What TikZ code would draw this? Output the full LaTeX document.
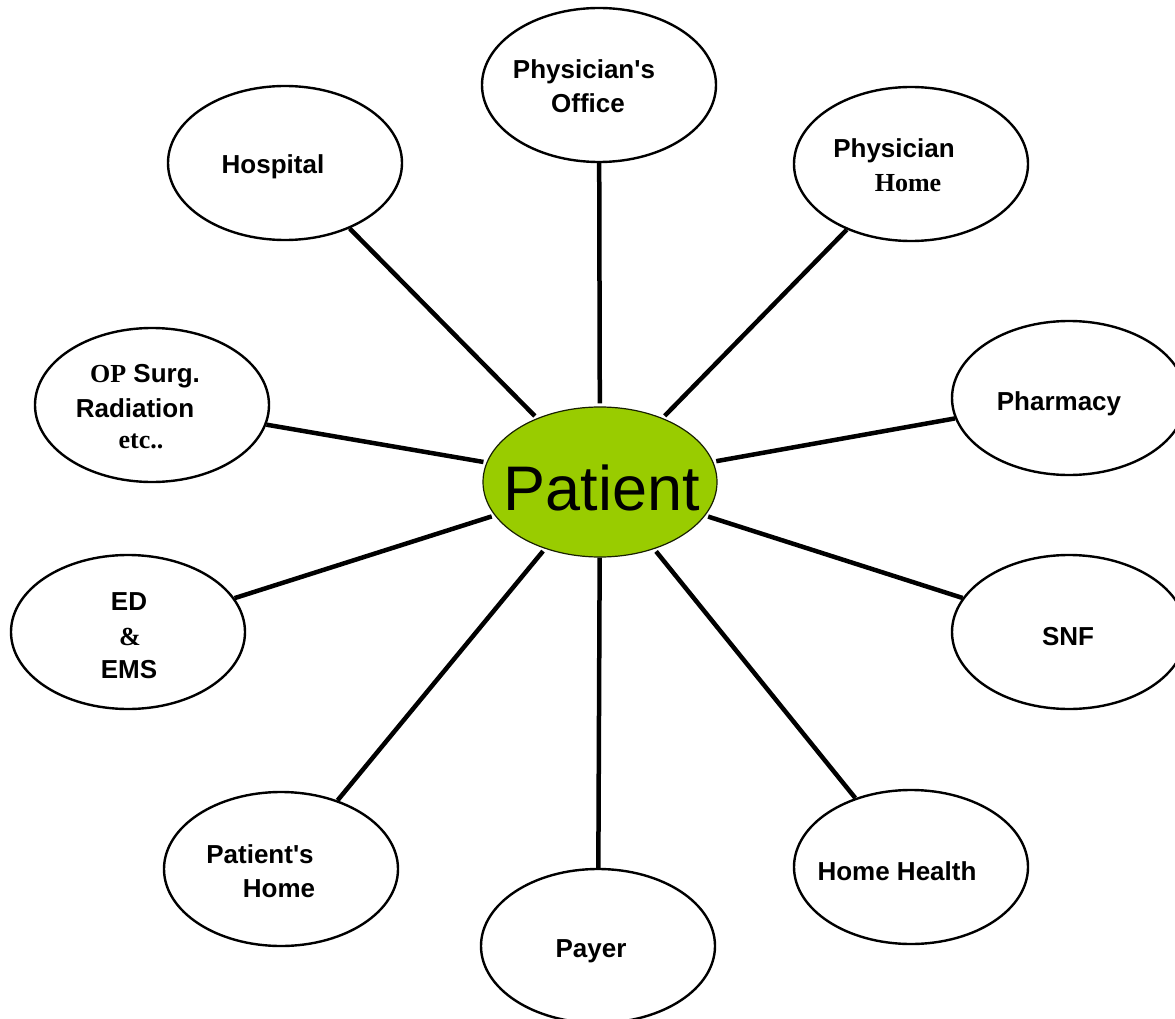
\documentclass[tikz,border=0pt]{standalone}
\usepackage{fontspec}
\setmainfont{Liberation Sans}
\newfontfamily\arialb{Liberation Sans}
\newfontfamily\timesb{Liberation Serif}
\usetikzlibrary{shapes.geometric}
\definecolor{patgreen}{HTML}{99CC00}
\tikzset{
  oval/.style={ellipse, draw=black, line width=2.4pt, fill=white, minimum width=234pt, minimum height=154pt, inner sep=0pt},
  patoval/.style={ellipse, draw=black!85!patgreen, line width=1.2pt, fill=patgreen, minimum width=234pt, minimum height=150pt, inner sep=0pt},
  conn/.style={line width=4.5pt, shorten >=3pt},
  lbl/.style={anchor=base, inner sep=0pt, font=\fontsize{26}{30}\selectfont\arialb\bfseries},
  lbls/.style={anchor=base, inner sep=0pt, font=\fontsize{26}{30}\selectfont\timesb\bfseries},
}
\begin{document}
\begin{tikzpicture}[x=1pt,y=-1pt]
\useasboundingbox (0,0) rectangle (1175,1019);
\clip (0,0) rectangle (1175,1019);
% center
\node[patoval] (pat) at (600,482) {};
% outer ovals
\node[oval] (office) at (599,85) {};
\node[oval] (hosp) at (285,163) {};
\node[oval] (phome) at (911,164) {};
\node[oval] (pharm) at (1069,398) {};
\node[oval] (opsurg) at (152,405) {};
\node[oval] (ed) at (128,632) {};
\node[oval] (snf) at (1069,632) {};
\node[oval] (pathome) at (281,869) {};
\node[oval] (payer) at (598,946) {};
\node[oval] (hh) at (911,867) {};
% connectors
\draw[conn] (office) -- (pat);
\draw[conn] (hosp) -- (pat);
\draw[conn] (phome) -- (pat);
\draw[conn] (pharm) -- (pat);
\draw[conn] (opsurg) -- (pat);
\draw[conn] (ed) -- (pat);
\draw[conn] (snf) -- (pat);
\draw[conn] (pathome) -- (pat);
\draw[conn, shorten >=0pt] (payer) -- (pat);
\draw[conn] (hh) -- (pat);
% labels
\node[anchor=base, inner sep=0pt, font=\fontsize{63}{70}\selectfont\arialb] (patT) at (602,510) {Patient};
\node[lbl] (officeT1) at (584,79) {Physician's};
\node[lbl] (officeT2) at (588,113) {Office};
\node[lbl] (hospT) at (273,174) {Hospital};
\node[lbl] (phomeT1) at (894,158) {Physician};
\node[lbls] (phomeT2) at (908,192) {Home};
\node[lbl] (pharmT) at (1059,410) {Pharmacy};
\node[lbl] (opT1) at (145,382) {{\timesb OP} Surg.};
\node[lbl] (opT2) at (135,417) {Radiation};
\node[lbls] (opT3) at (141,448) {etc..};
\node[lbl] (edT1) at (129,610) {ED};
\node[lbls] (edT2) at (130,645) {\&};
\node[lbl] (edT3) at (129,678) {EMS};
\node[lbl] (snfT) at (1068,645) {SNF};
\node[lbl] (pathomeT1) at (260,863) {Patient's};
\node[lbl] (pathomeT2) at (279,897) {Home};
\node[lbl] (payerT) at (591,957) {Payer};
\node[lbl] (hhT) at (897,880) {Home Health};
\end{tikzpicture}
\end{document}
